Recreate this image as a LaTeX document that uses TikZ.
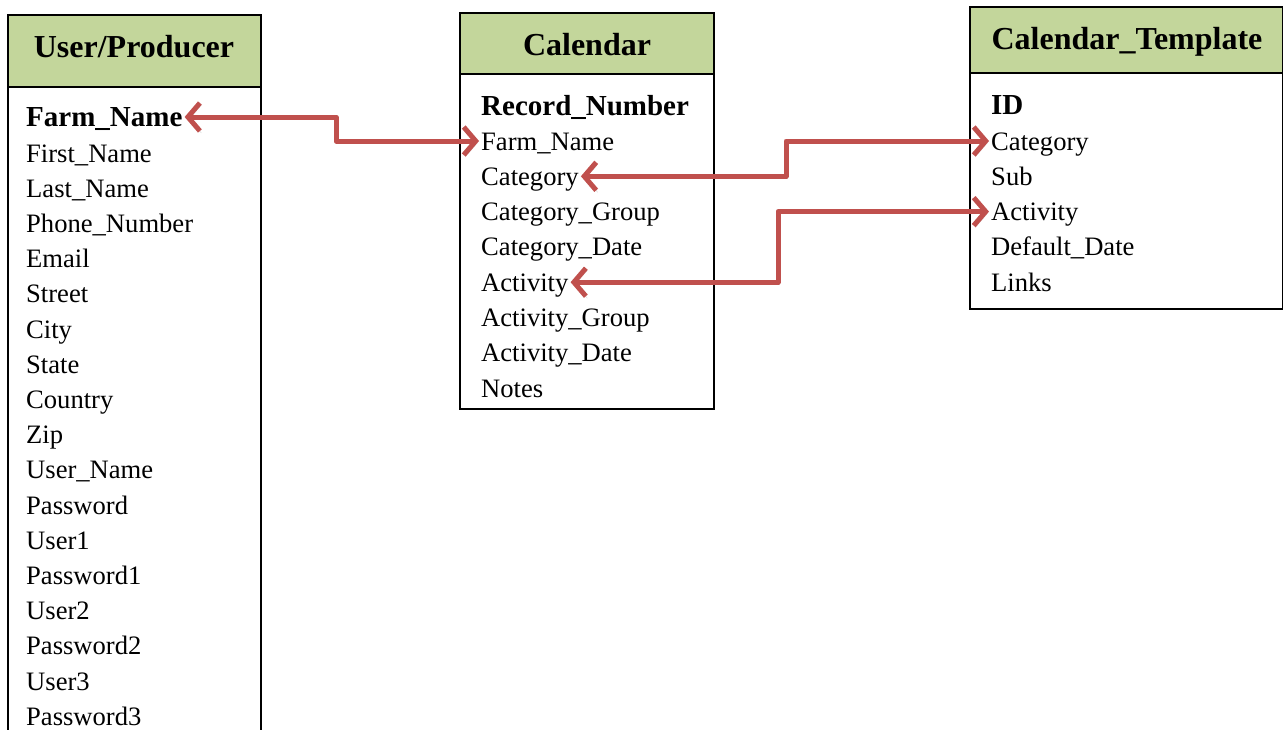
\documentclass[tikz,border=0pt]{standalone}
\usepackage{fontspec}
\setmainfont{Liberation Serif}
\usetikzlibrary{arrows.meta}
\definecolor{hdrgreen}{RGB}{195,214,155}
\definecolor{linkred}{RGB}{192,80,77}
\begin{document}
\begin{tikzpicture}[x=1pt, y=-1pt,
  box/.style={draw, line width=1.5pt},
  hdr/.style={draw, line width=1.5pt, fill=hdrgreen},
  title/.style={anchor=base, font=\fontsize{32}{36}\selectfont\bfseries, inner sep=0pt},
  field/.style={anchor=base west, font=\fontsize{26.6}{30}\selectfont, inner xsep=2pt, inner ysep=0pt, text height=18pt, text depth=0pt},
  keyfield/.style={field, font=\fontsize{29}{32}\selectfont\bfseries},
  link/.style={{Straight Barb[length=12pt,width=28pt]}-{Straight Barb[length=12pt,width=28pt]}, line width=5pt, linkred, line cap=round, line join=round,
    preaction={draw=black!35, opacity=0.5, transform canvas={shift={(1.5pt,-2pt)}}}}]
  \useasboundingbox (0,0) rectangle (1283,729);

  % User/Producer table
  \draw[box] (8,87) rectangle (261,745);
  \filldraw[hdr] (8,15) rectangle (261,87);
  \draw[line width=2.5pt] (8,87) -- (261,87);
  \node[title] (user) at (134,57) {User/Producer};
  \node[keyfield] (ufarm) at (24,126) {Farm\_Name};
  \foreach \txt [count=\i] in {First\_Name, Last\_Name, Phone\_Number, Email, Street, City, State, Country, Zip, User\_Name, Password, User1, Password1, User2, Password2, User3, Password3}
    \node[field] (u\i) at (24,{162+35.2*(\i-1)}) {\txt};

  % Calendar table
  \draw[box] (460,74) rectangle (714,409);
  \filldraw[hdr] (460,13) rectangle (714,74);
  \draw[line width=2.5pt] (460,74) -- (714,74);
  \node[title] (cal) at (587,55) {Calendar};
  \node[keyfield] (crec) at (479,115) {Record\_Number};
  \foreach \txt [count=\i] in {Farm\_Name, Category, Category\_Group, Category\_Date, Activity, Activity\_Group, Activity\_Date, Notes}
    \node[field] (c\i) at (479,{150+35.3*(\i-1)}) {\txt};

  % Calendar_Template table
  \draw[box] (970,73) rectangle (1283,309);
  \filldraw[hdr] (970,7) rectangle (1283,73);
  \draw[line width=2.5pt] (970,73) -- (1283,73);
  \node[title] (tmpl) at (1127,49) {Calendar\_Template};
  \node[keyfield] (tid) at (989,114) {ID};
  \foreach \txt [count=\i] in {Category, Sub, Activity, Default\_Date, Links}
    \node[field] (t\i) at (989,{150+35.3*(\i-1)}) {\txt};

  % Links between the tables
  \draw[link] (ufarm.east) -| (336,130) |- (c1.west);
  \draw[link] (c2.east) -| (786,160) |- (t1.west);
  \draw[link] (c5.east) -| (778,250) |- (t3.west);
\end{tikzpicture}
\end{document}
